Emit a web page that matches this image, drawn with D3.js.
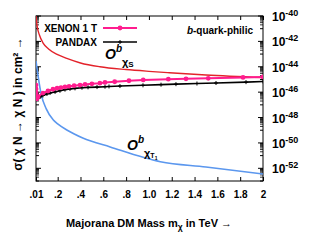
<!DOCTYPE html>
<html>
<head>
<meta charset="utf-8">
<script src="https://cdn.jsdelivr.net/npm/d3@7"></script>
<style>
  body { margin: 0; background: #fff; }
  svg { display: block; font-family: "Liberation Sans", Arial, sans-serif; font-weight: bold; }
</style>
</head>
<body>
<div id="chart"></div>
<script>
// tick values / labels
const xTicks = [0.01, 0.2, 0.4, 0.6, 0.8, 1.0, 1.2, 1.4, 1.6, 1.8, 2.0];
const xTickLabels = [".01", ".2", ".4", ".6", ".8", "1.0", "1.2", "1.4", "1.6", "1.8", "2"];
const yLabelExps = [-40, -42, -44, -46, -48, -50, -52];

// XENON 1T limit (mass in TeV, log10 sigma in cm^2)
const xenonMass = [0.01, 0.0105, 0.011, 0.012, 0.0135, 0.016, 0.02, 0.0275, 0.071, 0.115, 0.159, 0.195,
  0.229, 0.264, 0.3, 0.344, 0.396, 0.44, 0.5, 0.57, 0.615, 0.70, 0.825, 0.95, 1.17, 1.325, 1.52, 1.825, 2.0];
const xenonLogSigma = [-45.44, -45.75, -46.05, -46.3, -46.45, -46.52, -46.48, -46.36, -46.07, -45.91, -45.77, -45.69,
  -45.64, -45.59, -45.54, -45.49, -45.44, -45.39, -45.34, -45.29, -45.23, -45.18, -45.10, -45.04, -44.98, -44.95, -44.91, -44.84, -44.80];

// PANDAX limit
const pandaxMass = [0.02, 0.03, 0.045, 0.071, 0.106, 0.133, 0.177, 0.22, 0.264, 0.308, 0.352, 0.413,
  0.466, 0.545, 0.615, 0.65, 0.746, 0.948, 1.106, 1.237, 1.421, 1.588, 1.851, 2.0];
const pandaxLogSigma = [-46.54, -46.49, -46.38, -46.26, -46.14, -46.07, -45.98, -45.89, -45.80, -45.74, -45.70, -45.65,
  -45.62, -45.60, -45.57, -45.55, -45.52, -45.46, -45.41, -45.37, -45.32, -45.28, -45.21, -45.16];

// O^b_chiS (red)
const scalarMass = [0.01, 0.02, 0.04, 0.074, 0.12, 0.2, 0.28, 0.4, 0.57, 0.8, 1.0, 1.18, 1.5, 2.0];
const scalarLogSigma = [-40.0, -40.8, -41.5, -42.15, -42.6, -43.05, -43.34, -43.7, -44.0, -44.22, -44.36, -44.47, -44.65, -44.85];

// O^b_chiT1 (blue)
const tensorMass = [0.01, 0.027, 0.057, 0.1, 0.162, 0.2, 0.28, 0.42, 0.66, 1.1, 1.5, 2.0];
const tensorLogSigma = [-43.55, -44.65, -46.22, -47.32, -48.2, -48.5, -48.98, -49.61, -50.32, -51.48, -51.9, -52.45];

const width = 334, height = 250;
const margin = { top: 16, right: 71, bottom: 69, left: 36 };
const innerW = width - margin.left - margin.right;
const innerH = height - margin.top - margin.bottom;

const svg = d3.select("#chart").append("svg")
  .attr("width", width)
  .attr("height", height);

const g = svg.append("g")
  .attr("transform", `translate(${margin.left},${margin.top})`);

const x = d3.scaleLinear().domain([0.01, 2]).range([0, innerW]);
const y = d3.scaleLog().domain([1e-53, 1e-40]).range([innerH, 0]);

g.append("clipPath").attr("id", "clip")
  .append("rect").attr("width", innerW).attr("height", innerH);

// x ticks, inward on bottom and top
const xAxisB = g.append("g")
  .attr("transform", `translate(0,${innerH})`)
  .call(d3.axisBottom(x).tickValues(xTicks).tickSize(-4).tickPadding(10)
    .tickFormat((d, i) => xTickLabels[i]));
xAxisB.selectAll("text").style("font-size", "10px").style("font-weight", "bold");
xAxisB.select(".domain").remove();

g.append("g")
  .call(d3.axisTop(x).tickValues(xTicks).tickSize(-4).tickFormat(""))
  .select(".domain").remove();

// y ticks: majors at every decade, minor cluster under even decades
const yMajor = d3.range(-53, -39).map(e => Math.pow(10, e));
const yMinor = [];
d3.range(-53, -40).forEach(e => {
  if (e % 2 !== 0) {
    for (let k = 2; k <= 9; k++) yMinor.push(k * Math.pow(10, e));
  }
});

[0, innerW].forEach((xp, side) => {
  const dir = side === 0 ? 1 : -1;
  const tg = g.append("g");
  tg.selectAll("line.maj")
    .data(yMajor)
    .enter().append("line")
    .attr("x1", xp)
    .attr("x2", d => xp + dir * (Math.round(Math.log10(d)) % 2 === 0 ? 5 : 3))
    .attr("y1", d => y(d)).attr("y2", d => y(d))
    .attr("stroke", "#000").attr("stroke-width", 1);
  tg.selectAll("line.min")
    .data(yMinor)
    .enter().append("line")
    .attr("x1", xp)
    .attr("x2", xp + dir * 3)
    .attr("y1", d => y(d)).attr("y2", d => y(d))
    .attr("stroke", "#000").attr("stroke-width", 0.8);
});

// right labels 10^-n
const rl = g.append("g").attr("transform", `translate(${innerW + 9},0)`);
yLabelExps.forEach(e => {
  const t = rl.append("text")
    .attr("x", 0)
    .attr("y", y(Math.pow(10, e)) + 5)
    .style("font-size", "12px");
  t.append("tspan").text("10");
  t.append("tspan").attr("dy", -5).style("font-size", "9px").text(String(e));
});

// frame
g.append("rect")
  .attr("width", innerW).attr("height", innerH)
  .attr("fill", "none").attr("stroke", "#000").attr("stroke-width", 1);

const plot = g.append("g").attr("clip-path", "url(#clip)");

const smooth = d3.line().x(d => x(d[0])).y(d => y(Math.pow(10, d[1]))).curve(d3.curveMonotoneX);
const straight = d3.line().x(d => x(d[0])).y(d => y(Math.pow(10, d[1])));

const scalarPts = scalarMass.map((m, i) => [m, scalarLogSigma[i]]);
const tensorPts = tensorMass.map((m, i) => [m, tensorLogSigma[i]]);
const xenonPts = xenonMass.map((m, i) => [m, xenonLogSigma[i]]);
const pandaxPts = pandaxMass.map((m, i) => [m, pandaxLogSigma[i]]);

const pink = "#ff1c8e";

plot.append("path").datum(tensorPts)
  .attr("d", smooth).attr("fill", "none")
  .attr("stroke", "#5b97ee").attr("stroke-width", 1.6);

plot.append("path").datum(pandaxPts)
  .attr("d", straight).attr("fill", "none")
  .attr("stroke", "#000").attr("stroke-width", 1.6);

plot.selectAll("path.plus")
  .data(pandaxPts)
  .enter().append("path")
  .attr("d", d => {
    const px = x(d[0]), py = y(Math.pow(10, d[1]));
    return `M${px - 2},${py}H${px + 2}M${px},${py - 2}V${py + 2}`;
  })
  .attr("stroke", "#000").attr("stroke-width", 1);

plot.append("path").datum(scalarPts)
  .attr("d", smooth).attr("fill", "none")
  .attr("stroke", "#e3222a").attr("stroke-width", 1.4);

plot.append("path").datum(xenonPts)
  .attr("d", straight).attr("fill", "none")
  .attr("stroke", pink).attr("stroke-width", 2);

plot.selectAll("circle.xe")
  .data(xenonPts)
  .enter().append("circle")
  .attr("cx", d => x(d[0]))
  .attr("cy", d => y(Math.pow(10, d[1])))
  .attr("r", 2.4)
  .attr("fill", pink);

// legend
const leg = g.append("g");
leg.append("text").attr("x", 61).attr("y", 16).attr("text-anchor", "end")
  .style("font-size", "10px").text("XENON 1 T");
leg.append("line").attr("x1", 67).attr("x2", 101).attr("y1", 12).attr("y2", 12)
  .attr("stroke", pink).attr("stroke-width", 2);
leg.append("circle").attr("cx", 84).attr("cy", 12).attr("r", 2.4).attr("fill", pink);

leg.append("text").attr("x", 61).attr("y", 30).attr("text-anchor", "end")
  .style("font-size", "10px").text("PANDAX");
leg.append("line").attr("x1", 67).attr("x2", 101).attr("y1", 26).attr("y2", 26)
  .attr("stroke", "#000").attr("stroke-width", 1.6);
leg.append("path").attr("d", "M82,26H86M84,24V28").attr("stroke", "#000").attr("stroke-width", 1);

// b-quark-philic
const bq = g.append("text").attr("x", 217).attr("y", 18).attr("text-anchor", "end")
  .style("font-size", "10px");
bq.append("tspan").style("font-style", "italic").text("b");
bq.append("tspan").text("-quark-philic");

// O^b_chiS
const os = g.append("text").attr("x", 69).attr("y", 43).style("font-style", "italic");
os.append("tspan").style("font-size", "14px").text("O");
os.append("tspan").attr("dy", -7).style("font-size", "10px").text("b");
os.append("tspan").attr("dy", 14).style("font-size", "11px").style("font-style", "normal").text("χ");
os.append("tspan").attr("dy", 1).style("font-size", "8px").style("font-style", "normal").text("S");

// O^b_chiT1
const ot = g.append("text").attr("x", 91).attr("y", 134).style("font-style", "italic");
ot.append("tspan").style("font-size", "14px").text("O");
ot.append("tspan").attr("dy", -7).style("font-size", "10px").text("b");
ot.append("tspan").attr("dy", 14).style("font-size", "11px").style("font-style", "normal").text("χ");
ot.append("tspan").attr("dy", 1).style("font-size", "7px").style("font-style", "normal").text("T");
ot.append("tspan").attr("dy", 2).style("font-size", "5px").style("font-style", "normal").text("1");

// axis titles
const xt = svg.append("text")
  .attr("x", 149).attr("y", 227).attr("text-anchor", "middle")
  .style("font-size", "11px");
xt.append("tspan").text("Majorana DM Mass m");
xt.append("tspan").attr("dy", 3).style("font-size", "8.5px").text("χ");
xt.append("tspan").attr("dy", -3).text(" in TeV →");

svg.append("text")
  .attr("transform", "translate(22,104) rotate(-90)")
  .attr("text-anchor", "middle")
  .style("font-size", "12px")
  .text("σ( χ N → χ N ) in cm² →");
</script>
</body>
</html>
